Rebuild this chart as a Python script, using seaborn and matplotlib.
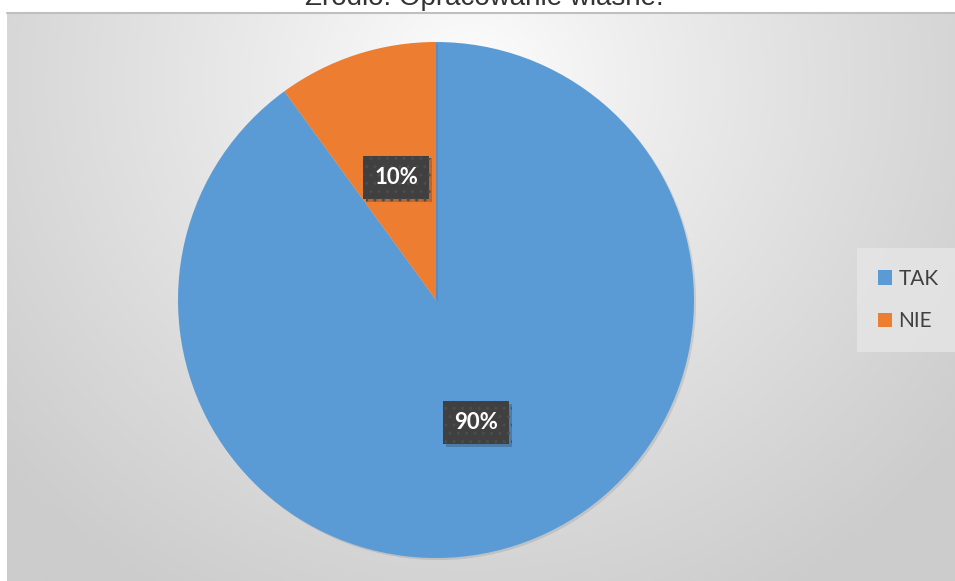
import numpy as np
import matplotlib
matplotlib.use("Agg")
import matplotlib.pyplot as plt
import matplotlib.patheffects as pe
from matplotlib.patches import Patch
import seaborn as sns

# ---- data ----
categories = ["TAK", "NIE"]
values = [90, 10]
colors = ["#5B9BD5", "#ED7D31"]
title = "Źródło: Opracowanie własne."

sns.set_style("white")
plt.rcParams["font.family"] = ["Lato", "DejaVu Sans"]

W, H = 955, 581
fig = plt.figure(figsize=(W / 100, H / 100), dpi=100)
fig.patch.set_facecolor("white")

# background chart area with radial gradient
top_px = 12
bg = fig.add_axes([7 / W, 0, (W - 7) / W, (H - top_px) / H])
gx = np.linspace(7, W, 400)
gy = np.linspace(top_px, H, 300)
X, Y = np.meshgrid(gx, gy)
cx, cy = 470, 80
d = np.sqrt(((X - cx) / 620) ** 2 + ((Y - cy) / 600) ** 2)
d = np.clip(d, 0, 1)
v = 1.0 - 0.2 * d ** 0.85
img = np.dstack([v, v, v])
bg.imshow(img, aspect="auto", extent=[0, 1, 0, 1], origin="upper")
bg.set_xlim(0, 1)
bg.set_ylim(0, 1)
bg.axis("off")
fig.add_artist(plt.Line2D([7 / W, 1], [1 - 12.5 / H, 1 - 12.5 / H],
                          color="#bfbfbf", lw=1.5, transform=fig.transFigure))

# title (mostly cut off at top, as in the source)
fig.text(484 / W, 1 - 5 / H, title, ha="center", va="baseline",
         fontsize=20, color="#333333", family=["Liberation Sans", "DejaVu Sans"])

# pie
cxp, cyp, r = 436, 300, 258
ax = fig.add_axes([(cxp - r) / W, (H - cyp - r) / H, 2 * r / W, 2 * r / H])
wedges, texts, autotexts = ax.pie(
    values, colors=colors, startangle=90, counterclock=False,
    autopct=lambda p: f"{p:.0f}%", pctdistance=0.5,
    wedgeprops=dict(linewidth=0, edgecolor="none"),
)
for w in wedges:
    w.set_path_effects([pe.SimplePatchShadow(offset=(1.5, -1.5), alpha=0.12), pe.Normal()])
for t in autotexts:
    t.set_color("white")
    t.set_fontsize(16)
    t.set_fontweight("bold")
    t.set_bbox(dict(boxstyle="square,pad=0.5", facecolor="#404040",
                    edgecolor="#4c4c4c", linewidth=0, hatch=".."))
    t.get_bbox_patch().set_path_effects(
        [pe.SimplePatchShadow(offset=(2, -2), alpha=0.22), pe.Normal()])
ax.set_xlim(-1, 1)
ax.set_ylim(-1, 1)
ax.set_aspect("auto")
ax.axis("off")

# legend
handles = [Patch(facecolor=c, edgecolor="none", label=l) for c, l in zip(colors, categories)]
leg = fig.legend(handles=handles, loc="center", bbox_to_anchor=(908 / W, 1 - 300 / H),
                 frameon=True, fontsize=15, handlelength=0.7, handleheight=0.7,
                 handletextpad=0.3, labelspacing=1.1, borderpad=0.7,
                 borderaxespad=0, labelcolor="#404040")
frame = leg.get_frame()
frame.set_facecolor("#e6e6e6")
frame.set_edgecolor("none")
frame.set_boxstyle("square")

fig.savefig("out.png", dpi=100)
